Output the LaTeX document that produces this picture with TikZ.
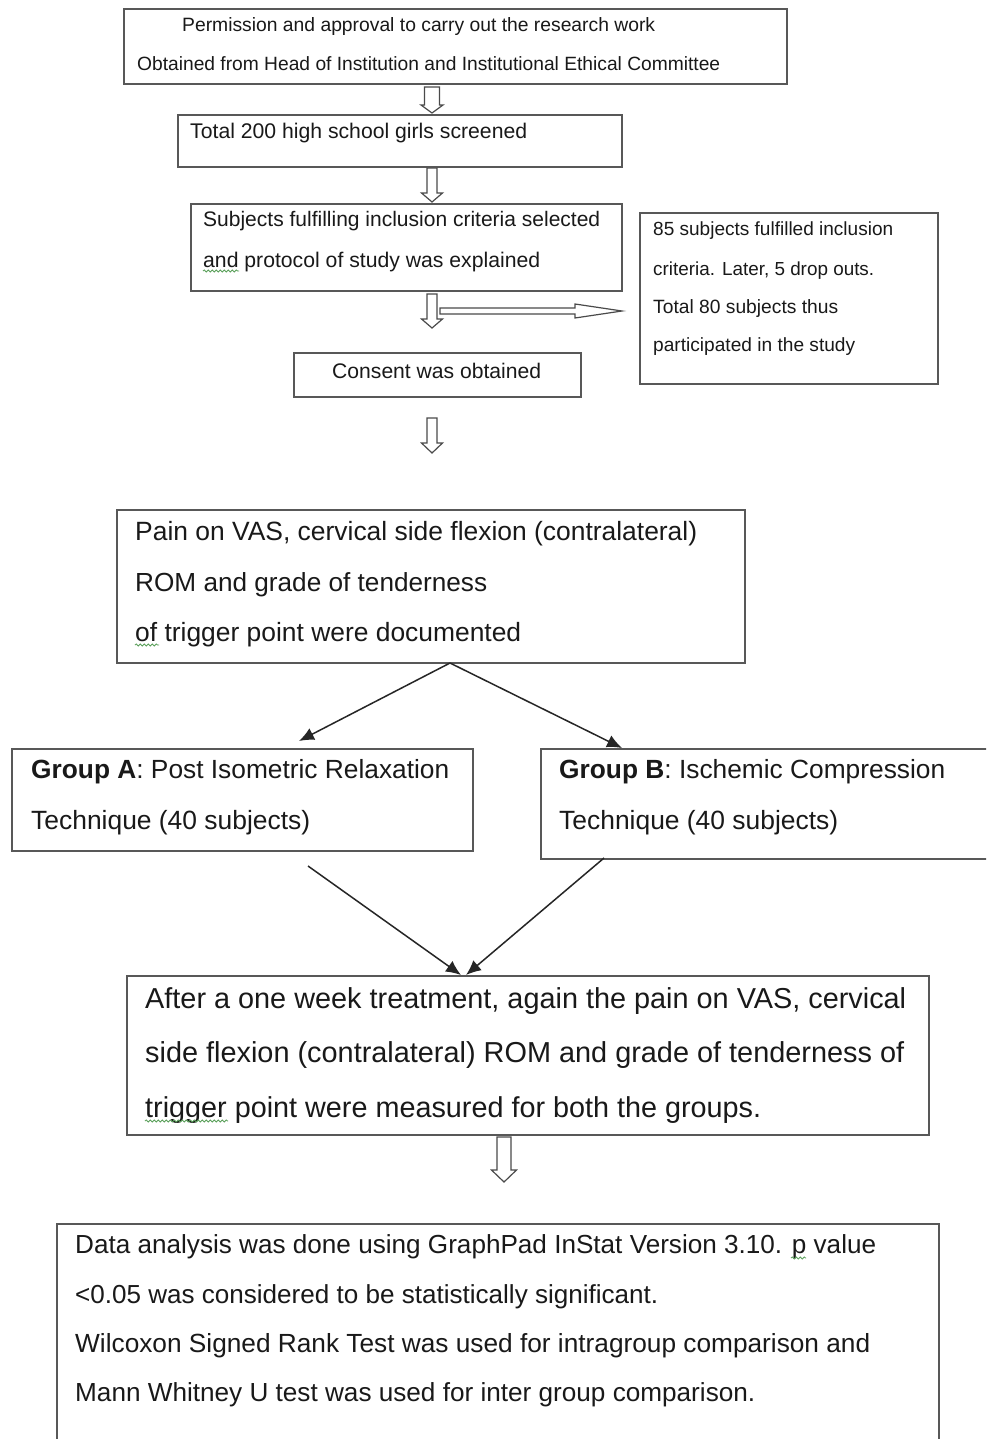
\documentclass[tikz,border=0pt]{standalone}
\usepackage{fontspec}
\setmainfont{Liberation Sans}
\usetikzlibrary{arrows.meta,decorations.pathmorphing}
\definecolor{boxgray}{HTML}{585858}
\definecolor{arrgray}{HTML}{4a4a4a}
\definecolor{squiggreen}{HTML}{5aa05a}
\newcommand{\fitline}[2]{\resizebox{#1pt}{!}{\fontsize{20}{24}\selectfont #2}}
\newcommand{\hdown}[6]{% x, ytop, yhead, ytip, shaftw, headw
  \draw[hollow] ({#1-#5/2},#2) -- ({#1+#5/2},#2) -- ({#1+#5/2},#3) -- ({#1+#6/2},#3) -- (#1,#4) -- ({#1-#6/2},#3) -- ({#1-#5/2},#3) -- cycle;}
\begin{document}
\begin{tikzpicture}[x=1pt,y=-1pt,
  box/.style={draw=boxgray,line width=1.8pt,inner sep=0,anchor=north west},
  txt/.style={anchor=base west,inner sep=0,text=black!90,yshift=-2pt},
  hollow/.style={draw=arrgray,line width=1.2pt,fill=white,line join=miter},
  conn/.style={draw=black!85,line width=1.5pt,-{Latex[length=15pt,width=13pt]}},
  squig/.style={draw=squiggreen,line width=0.8pt,decorate,decoration={snake,amplitude=1.1pt,segment length=4pt}}]
\useasboundingbox (0,0) rectangle (986,1439);
\clip (0,0) rectangle (986,1439);
\fill[white] (0,0) rectangle (986,1439);

% boxes
\node[box,minimum width=663pt,minimum height=75pt] (b1) at (123,8) {};
\node[box,minimum width=444pt,minimum height=52pt] (b2) at (177,114) {};
\node[box,minimum width=431pt,minimum height=87pt] (b3) at (190,203) {};
\node[box,minimum width=298pt,minimum height=171pt] (br) at (639,212) {};
\node[box,minimum width=287pt,minimum height=44pt] (b4) at (293,352) {};
\node[box,minimum width=628pt,minimum height=153pt] (b5) at (116,509) {};
\node[box,minimum width=461pt,minimum height=102pt] (ba) at (11,748) {};
\node[box,minimum width=470pt,minimum height=110pt] (bb) at (540,748) {};
\node[box,minimum width=802pt,minimum height=159pt] (b6) at (126,975) {};
\node[box,minimum width=882pt,minimum height=240pt] (b7) at (56,1223) {};

% texts
\node[txt] (t1a) at (182,30) {\fitline{473}{Permission and approval to carry out the research work}};
\node[txt] (t1b) at (137,69) {\fitline{583}{Obtained from Head of Institution and Institutional Ethical Committee}};
\node[txt] (t2) at (190,137) {\fitline{337}{Total 200 high school girls screened}};
\node[txt] (t3a) at (203,225) {\fitline{397}{Subjects fulfilling inclusion criteria selected}};
\node[txt] (t3b) at (203,266) {\fitline{337}{and protocol of study was explained}};
\node[txt] (tra) at (653,234) {\fitline{240}{85 subjects fulfilled inclusion}};
\node[txt] (trb) at (653,273) {\fitline{221}{criteria. Later, 5 drop outs.}};
\node[txt] (trc) at (653,311) {\fitline{185}{Total 80 subjects thus}};
\node[txt] (trd) at (653,349) {\fitline{202}{participated in the study}};
\node[txt] (t4) at (332,376) {\fitline{209}{Consent was obtained}};
\node[txt] (t5a) at (135,538) {\fitline{562}{Pain on VAS, cervical side flexion (contralateral)}};
\node[txt] (t5b) at (135,589) {\fitline{352}{ROM and grade of tenderness}};
\node[txt] (t5c) at (135,639) {\fitline{386}{of trigger point were documented}};
\node[txt] (taa) at (31,776) {\fitline{418}{\textbf{Group A}: Post Isometric Relaxation}};
\node[txt] (tab) at (31,827) {\fitline{279}{Technique (40 subjects)}};
\node[txt] (tba) at (559,776) {\fitline{386}{\textbf{Group B}: Ischemic Compression}};
\node[txt] (tbb) at (559,827) {\fitline{279}{Technique (40 subjects)}};
\node[txt] (t6a) at (145,1006) {\fitline{761}{After a one week treatment, again the pain on VAS, cervical}};
\node[txt] (t6b) at (145,1060) {\fitline{759}{side flexion (contralateral) ROM and grade of tenderness of}};
\node[txt] (t6c) at (145,1115) {\fitline{616}{trigger point were measured for both the groups.}};
\node[txt] (t7a) at (75,1251) {\fitline{801}{Data analysis was done using GraphPad InStat Version 3.10. p value}};
\node[txt] (t7b) at (75,1301) {\fitline{583}{<0.05 was considered to be statistically significant.}};
\node[txt] (t7c) at (75,1350) {\fitline{795}{Wilcoxon Signed Rank Test was used for intragroup comparison and}};
\node[txt] (t7d) at (75,1399) {\fitline{680}{Mann Whitney U test was used for inter group comparison.}};

% spell-check squiggles
\draw[squig] (203,271) -- (239,271);
\draw[squig] (135,645) -- (159,645);
\draw[squig] (145,1121) -- (228,1121);
\draw[squig] (791,1258) -- (806,1258);

% hollow arrows
\hdown{432}{87}{105}{113}{15}{22}
\hdown{432}{168}{193}{202}{10}{21}
\hdown{432}{294}{319}{328}{10}{21}
\hdown{432}{418}{443}{453}{10}{21}
\hdown{504}{1137}{1170}{1182}{14}{25}
\draw[hollow] (440,308) -- (575,308) -- (575,304) -- (622,311) -- (575,318) -- (575,314) -- (440,314) -- cycle;

% connectors
\coordinate (apex) at (450,663);
\coordinate (tipA) at (299,741);
\coordinate (tipB) at (622,748);
\coordinate (fromA) at (308,866);
\coordinate (fromB) at (604,858);
\coordinate (tip6a) at (461,975);
\coordinate (tip6b) at (466,975);
\draw[conn] (apex) -- (tipA);
\draw[conn] (apex) -- (tipB);
\draw[conn] (fromA) -- (tip6a);
\draw[conn] (fromB) -- (tip6b);
\end{tikzpicture}
\end{document}
